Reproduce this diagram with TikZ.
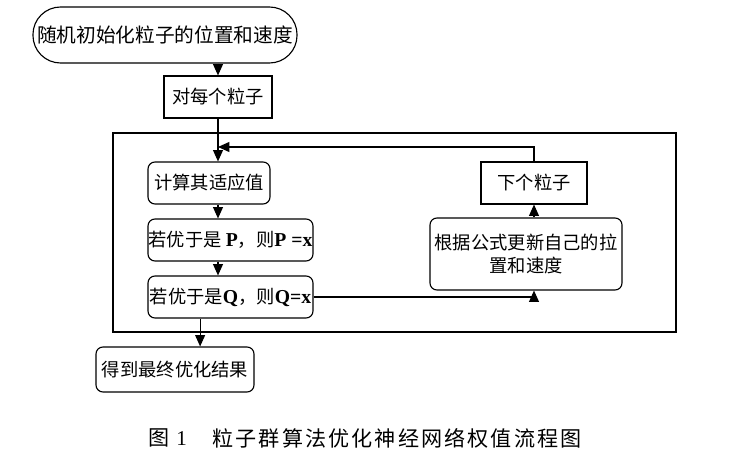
\documentclass[tikz,border=0pt]{standalone}
\usepackage{fontspec}
\setmainfont{Liberation Serif}
\newfontfamily\lat{Liberation Serif}
\newfontfamily\cjk{Noto Sans CJK SC}
\newfontfamily\cjkcap[LetterSpace=10]{Noto Sans CJK SC}
\usetikzlibrary{arrows.meta}

\begin{document}
\begin{tikzpicture}[x=0.025cm,y=-0.025cm,line width=0.8pt,
    >={Triangle[length=8pt,width=7pt]},
    box/.style={draw,inner sep=0pt,align=center,font=\cjk\fontsize{13}{16}\selectfont},
    rbox/.style={box,rounded corners=5pt}]
          \useasboundingbox (0,0) rectangle (731,457);
          \node [box,rounded corners=0.69cm,minimum width=6.6cm,minimum height=1.4cm,font=\cjk\fontsize{14}{16}\selectfont] (n0) at (165,35) {随机初始化粒子的位置和速度};
          \node [box,minimum width=2.7cm,minimum height=1.05cm] (n1) at (218,97) {对每个粒子};
          \draw (113,133) rectangle (676,332);
          \node [rbox,minimum width=3.05cm,minimum height=1.05cm] (n2) at (209,183) {计算其适应值};
          \node [rbox,minimum width=4.125cm,minimum height=1.05cm] (n3) at (230.5,240) {若优于是 {\lat\bfseries\fontsize{14}{16}\selectfont P}，则{\lat\bfseries\fontsize{14}{16}\selectfont P =x}};
          \node [rbox,minimum width=4.125cm,minimum height=1.05cm] (n4) at (230.5,297) {若优于是{\lat\bfseries\fontsize{14}{16}\selectfont Q}，则{\lat\bfseries\fontsize{14}{16}\selectfont Q=x}};
          \node [rbox,minimum width=4.8cm,minimum height=1.8cm] (n5) at (526,254) {根据公式更新自己的拉\\置和速度};
          \node [box,minimum width=2.65cm,minimum height=1.05cm] (n6) at (534,183) {下个粒子};
          \node [rbox,minimum width=3.95cm,minimum height=1.125cm] (n7) at (175,369.5) {得到最终优化结果};
          \node [anchor=west,inner sep=0pt,font=\cjkcap\fontsize{15}{17}\selectfont] (c0) at (148,438) {图 {\lat 1}};
          \node [anchor=west,inner sep=0pt,font=\cjkcap\fontsize{15}{17}\selectfont] (c1) at (212,438) {粒子群算法优化神经网络权值流程图};
          \coordinate (j) at (218,147);
          \coordinate (o) at ([xshift=-21.6pt]n4.south);
          \draw [->] (n0.south -| n1.north)--(n1.north);
          \draw [->] (n1.south)--(n1.south |- n2.north);
          \draw [->] (n2.south -| n1.south)--(n1.south |- n3.north);
          \draw [->] (n3.south -| n1.south)--(n1.south |- n4.north);
          \draw [->] (n4.east) -| (n5.south -| n6.south);
          \draw [->] (n5.north -| n6.south)--(n6.south);
          \draw [->] (n6.north) |- (j);
          \draw [->] (o)--(o |- n7.north);
        \end{tikzpicture}
\end{document}
